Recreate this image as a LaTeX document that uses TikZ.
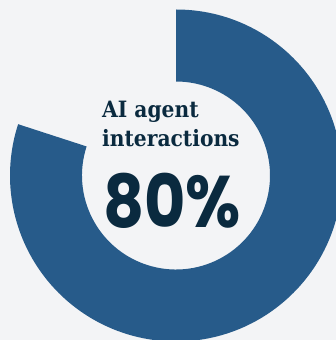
\documentclass[tikz,border=0pt]{standalone}
\usepackage{fontspec}
\usetikzlibrary{calc}
\newfontfamily\slabfont{DejaVu Serif Condensed}
\newfontfamily\geofont{Poppins}
\definecolor{bgcol}{HTML}{F3F4F6}
\definecolor{ringcol}{HTML}{275B8A}
\definecolor{inkcol}{HTML}{0A2A3F}
\tikzset{
  labeltext/.style={anchor=base west, inner sep=0pt, text=inkcol, font=\slabfont\bfseries\fontsize{22.5}{24}\selectfont},
  bigtext/.style={anchor=base west, inner sep=0pt, text=inkcol, font=\geofont\bfseries\fontsize{73}{80}\selectfont},
}
\begin{document}
\begin{tikzpicture}[x=1pt,y=1pt]
\fill[bgcol] (0,0) rectangle (336,340);
\useasboundingbox (0,0) rectangle (336,340);
\coordinate (c) at (176,164.5);
\begin{scope}
\clip (0,0) rectangle (336,340);
\fill[ringcol] ($(c)+(90:166)$) arc[start angle=90, end angle=-198, radius=166]
  -- ($(c)+(162:94)$) arc[start angle=-198, end angle=90, radius=94] -- cycle;
\end{scope}
\node[labeltext] (l1) at (102,222) {AI agent};
\node[labeltext] (l2) at (102,193) {interactions};
\node[bigtext] (pct) at (103,112) {\scalebox{0.87}[1]{80\%}};
\end{tikzpicture}
\end{document}
